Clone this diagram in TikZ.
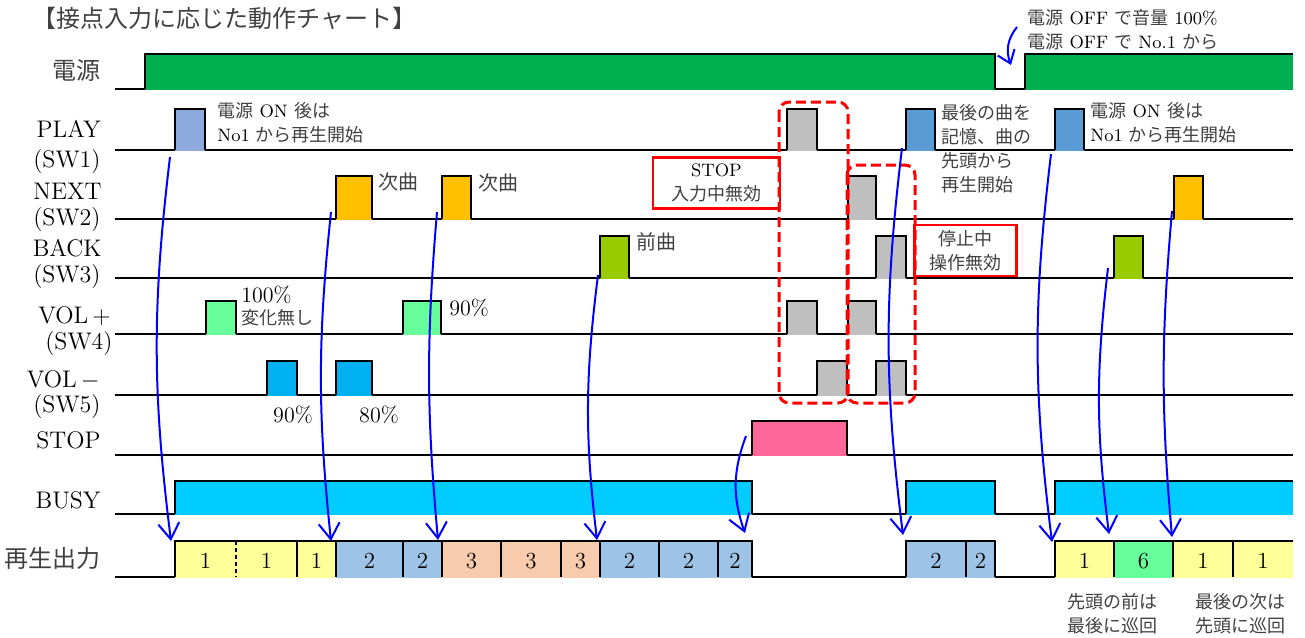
\documentclass[tikz,border=0pt]{standalone}
\usepackage{fontspec}
\newfontfamily\jpfont{Noto Sans CJK JP}
\usetikzlibrary{arrows.meta}

\definecolor{pwrgreen}{HTML}{00B050}
\definecolor{playlav}{HTML}{8EA9DB}
\definecolor{playblue}{HTML}{5B9BD5}
\definecolor{nextorange}{HTML}{FFC000}
\definecolor{backlime}{HTML}{99CC00}
\definecolor{volmint}{HTML}{66FF99}
\definecolor{volcyan}{HTML}{00B0F0}
\definecolor{inval}{HTML}{BFBFBF}
\definecolor{stoppink}{HTML}{FF6699}
\definecolor{busysky}{HTML}{00CCFF}
\definecolor{trk1}{HTML}{FFFF99}
\definecolor{trk2}{HTML}{9DC3E6}
\definecolor{trk3}{HTML}{F8CBAD}
\definecolor{trk6}{HTML}{66FF99}

% Japanese text
\newcommand{\jtxt}[1]{{\jpfont\color{black!75}#1}}
% pulse: x1, x2, low, high, colour
\newcommand{\sigpulse}[5]{%
  \fill[#5] (#1,#4) rectangle (#2,#3+1.3);
  \draw[sig] (#1,#3) |- (#2,#4) -- (#2,#3);}
% open pulse (runs off the right edge)
\newcommand{\sigrise}[5]{%
  \fill[#5] (#1,#4) rectangle (#2,#3+1.3);
  \draw[sig] (#1,#3) |- (#2,#4);}

\tikzset{
  sig/.style={line width=1pt},
  rowlbl/.style={anchor=base east, inner sep=0, font=\fontsize{12}{14}\selectfont},
  note/.style={anchor=west, inner sep=0, align=left, font=\fontsize{9}{12}\selectfont},
  pct/.style={inner sep=0, font=\fontsize{11}{13}\selectfont},
  num/.style={inner sep=0, font=\fontsize{11.5}{13}\selectfont},
  zone/.style={red, line width=1.5pt, dash pattern=on 5pt off 2.5pt, rounded corners=5pt},
  warnbox/.style={draw=red, line width=1.2pt, align=center, inner sep=0, font=\fontsize{9}{12}\selectfont},
  flow/.style={blue, line width=1pt, -{Straight Barb[length=8pt,width=10.5pt]}}
}

\begin{document}
\begin{tikzpicture}[x=0.5pt, y=-0.5pt]
    \useasboundingbox (0,0) rectangle (1305,637);

    % Title
    \node[anchor=west, inner sep=0, font=\fontsize{12}{14}\selectfont] (title) at (32,18) {\jtxt{【接点入力に応じた動作チャート】}};

    % Row labels
    \node[rowlbl] (lPow) at (101,79) {\jtxt{電源}};
    \node[rowlbl] (lPlay) at (101,137) {PLAY};
    \node[rowlbl] (lSw1) at (101,167) {(SW1)};
    \node[rowlbl] (lNext) at (102,199) {NEXT};
    \node[rowlbl] (lSw2) at (101,225) {(SW2)};
    \node[rowlbl] (lBack) at (102,256) {BACK};
    \node[rowlbl] (lSw3) at (101,282) {(SW3)};
    \node[rowlbl] (lVup) at (111,323) {VOL\,$+$};
    \node[rowlbl] (lSw4) at (113,349) {(SW4)};
    \node[rowlbl] (lVdn) at (100,387) {VOL\,$-$};
    \node[rowlbl] (lSw5) at (101,412) {(SW5)};
    \node[rowlbl] (lStop) at (101,448) {STOP};
    \node[rowlbl] (lBusy) at (101,508) {BUSY};
    \node[rowlbl] (lOut) at (101,567) {\jtxt{再生出力}};

    % Base lines
    \foreach \low in {89,150,219,278,334,395,455,514,577}
        \draw[sig] (115,\low) -- (1293,\low);

    % Power
    \sigpulse{145}{995}{89}{54}{pwrgreen}
    \sigrise{1025}{1293}{89}{54}{pwrgreen}

    % PLAY (SW1)
    \foreach \a/\b/\c in {175/205/playlav, 787/817/inval, 906/935/playblue, 1055/1084/playblue}
        {\sigpulse{\a}{\b}{150}{109}{\c}}
    % NEXT (SW2)
    \foreach \a/\b/\c in {336/372/nextorange, 442/471/nextorange, 848/876/inval, 1174/1203/nextorange}
        {\sigpulse{\a}{\b}{219}{176}{\c}}
    % BACK (SW3)
    \foreach \a/\b/\c in {600/629/backlime, 876/906/inval, 1114/1143/backlime}
        {\sigpulse{\a}{\b}{278}{236}{\c}}
    % VOL+ (SW4)
    \foreach \a/\b/\c in {206/236/volmint, 403/441/volmint, 787/817/inval, 848/876/inval}
        {\sigpulse{\a}{\b}{334}{301}{\c}}
    % VOL- (SW5)
    \foreach \a/\b/\c in {267/297/volcyan, 336/372/volcyan, 817/847/inval, 876/906/inval}
        {\sigpulse{\a}{\b}{395}{361}{\c}}
    % STOP
    \sigpulse{752}{847}{455}{421}{stoppink}
    % BUSY
    \sigpulse{175}{752}{514}{481}{busysky}
    \sigpulse{906}{995}{514}{481}{busysky}
    \sigrise{1055}{1293}{514}{481}{busysky}

    % Output tracks
    \foreach \a/\b/\c/\n [count=\i] in {175/236/trk1/1, 236/297/trk1/1, 297/336/trk1/1, 336/403/trk2/2, 403/442/trk2/2, 442/501/trk3/3, 501/561/trk3/3, 561/600/trk3/3, 600/659/trk2/2, 659/718/trk2/2, 718/752/trk2/2, 906/966/trk2/2, 966/995/trk2/2, 1055/1114/trk1/1, 1114/1173/trk6/6, 1173/1233/trk1/1, 1233/1293/trk1/1}
    {
        \fill[\c] (\a,541) rectangle (\b,578.3);
        \node[num] (cell\i) at ({(\a+\b)/2},561) {\n};
    }
    \foreach \x in {297,336,403,442,501,561,600,659,718,966,1114,1173,1233}
        \draw[sig] (\x,541) -- (\x,577);
    \draw[sig, dash pattern=on 2pt off 1.5pt] (236,541) -- (236,577);
    \draw[sig] (175,577) |- (752,541) -- (752,577);
    \draw[sig] (906,577) |- (995,541) -- (995,577);
    \draw[sig] (1055,577) |- (1293,541);

    % Ignored inputs
    \draw[zone] (779,102) rectangle (848,403);
    \draw[zone] (847,165) rectangle (915,403);
    \node[warnbox, minimum width=63.5pt, minimum height=25.5pt] (stopNote) at (716.5,183) {STOP\\\jtxt{入力中無効}};
    \node[warnbox, minimum width=51pt, minimum height=25.5pt] (haltNote) at (965.5,250.5) {\jtxt{停止中}\\\jtxt{操作無効}};

    % Notes
    \node[note] (onNote) at (217,123) {\jtxt{電源} ON \jtxt{後は}\\No1 \jtxt{から再生開始}};
    \node[note, font=\fontsize{10}{12}\selectfont] (nextA) at (378,182) {\jtxt{次曲}};
    \node[note, font=\fontsize{10}{12}\selectfont] (nextB) at (478,183) {\jtxt{次曲}};
    \node[note, font=\fontsize{10}{12}\selectfont] (prevA) at (636,242) {\jtxt{前曲}};
    \node[pct, anchor=west] (vFull) at (241,295) {100\%};
    \node[note] (vKeep) at (241,318) {\jtxt{変化無し}};
    \node[pct, anchor=west] (vUp) at (449,308) {90\%};
    \node[pct] (vDnA) at (293,415) {90\%};
    \node[pct] (vDnB) at (379,415) {80\%};
    \node[note] (resumeNote) at (941,149) {\jtxt{最後の曲を}\\\jtxt{記憶、曲の}\\\jtxt{先頭から}\\\jtxt{再生開始}};
    \node[note] (onNoteB) at (1090,123) {\jtxt{電源} ON \jtxt{後は}\\No1 \jtxt{から再生開始}};
    \node[note] (offNote) at (1027,30) {\jtxt{電源} OFF \jtxt{で音量} 100\%\\\jtxt{電源} OFF \jtxt{で} No.1 \jtxt{から}};
    \node[note] (wrapA) at (1067,614) {\jtxt{先頭の前は}\\\jtxt{最後に巡回}};
    \node[note] (wrapB) at (1195,614) {\jtxt{最後の次は}\\\jtxt{先頭に巡回}};

    % Flow arrows
    \foreach \i/\sx/\sy/\ex/\ey/\b in {1/170/157/171/541/7, 2/331/212/331/541/6, 3/437/212/438/540/5, 4/598/275/597/540/7, 5/746/436/745/533/20, 6/902/148/903/535/7, 7/1051/154/1052/542/7, 8/1108/268/1109/534/7, 9/1172/211/1172/537/5}
    {
        \coordinate (src\i) at (\sx,\sy);
        \coordinate (dst\i) at (\ex,\ey);
        \draw[flow] (src\i) to[bend right=\b] (dst\i);
    }
    \coordinate (offSrc) at (1017,27);
    \coordinate (offDst) at (1011,65);
    \draw[flow, -{Straight Barb[length=6pt,width=9pt]}] (offSrc) to[bend right=30] (offDst);
\end{tikzpicture}
\end{document}
